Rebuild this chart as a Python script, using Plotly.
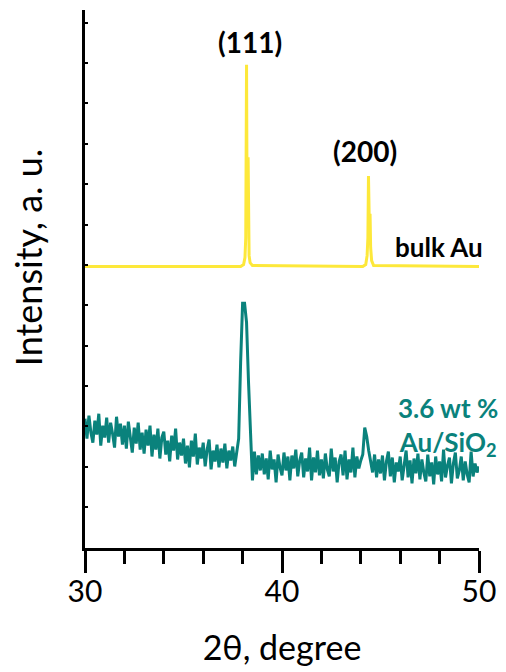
import numpy as np
import plotly.graph_objects as go

# ---- data ----
# bulk Au reference pattern (intensity, a.u.)
bulk_x = [30.0, 37.9, 38.05, 38.12, 38.16, 38.2, 38.23, 38.25, 38.28, 38.3, 38.33, 38.38, 38.5, 44.1, 44.25, 44.32, 44.36, 44.39, 44.42, 44.44, 44.47, 44.5, 44.55, 44.65, 50.0]
bulk_y = [281, 281, 283, 290, 310, 484, 330, 320, 391, 330, 292, 285, 282, 281, 283, 292, 310, 372, 320, 315, 334, 300, 287, 282, 281]

# 3.6 wt % Au/SiO2 pattern, 0.1 degree steps from 30 to 50
sample_x = list(np.round(np.arange(30.0, 50.001, 0.1), 2))
sample_y = [
    128, 108, 131, 114, 104, 126, 112, 133, 101, 121,
    109, 129, 104, 124, 113, 99, 130, 110, 123, 102,
    121, 98, 125, 107, 94, 119, 103, 124, 97, 114,
    93, 117, 101, 121, 90, 112, 97, 118, 88, 109,
    115, 92, 106, 85, 111, 96, 118, 87, 104, 91,
    108, 83, 101, 79, 106, 90, 113, 82, 99, 88,
    104, 80, 97, 107, 77, 96, 85, 102, 79, 98,
    84, 103, 78, 96, 86, 100, 80, 94, 108, 185,
    244, 244, 225, 165, 105, 66, 95, 72, 91, 76,
    93, 72, 88, 67, 96, 77, 87, 64, 92, 79,
    71, 94, 76, 90, 66, 91, 78, 97, 70, 86,
    94, 69, 88, 75, 99, 66, 89, 74, 96, 71,
    87, 68, 93, 77, 70, 98, 75, 89, 64, 85,
    92, 71, 96, 67, 87, 74, 99, 69, 90, 78,
    86, 92, 119, 110, 96, 86, 74, 92, 69, 87,
    73, 91, 66, 85, 95, 70, 89, 64, 84, 75,
    90, 66, 82, 96, 69, 86, 63, 88, 73, 93,
    67, 87, 74, 65, 92, 70, 84, 62, 90, 72,
    85, 65, 97, 69, 81, 89, 63, 83, 94, 68,
    76, 90, 66, 85, 72, 64, 95, 70, 83, 74,
    80,
]

peak_labels = ["(111)", "(200)"]
peak_pos = [38.4, 44.2]
peak_label_y = [507, 397]

x_ticks = [30, 40, 50]

YELLOW = "#FDE83A"
TEAL = "#0A827C"
FONT = "Lato"

fig = go.Figure()
fig.add_trace(go.Scatter(x=bulk_x, y=bulk_y, mode="lines",
                         line=dict(color=YELLOW, width=3), showlegend=False))
fig.add_trace(go.Scatter(x=sample_x, y=sample_y, mode="lines",
                         line=dict(color=TEAL, width=3), showlegend=False))

for lab, px, py in zip(peak_labels, peak_pos, peak_label_y):
    fig.add_annotation(x=px, y=py, text="<b>" + lab + "</b>", showarrow=False,
                       font=dict(family=FONT, size=28, color="black"))

fig.add_annotation(x=50, y=301, text="<b>bulk Au</b>", showarrow=False, xanchor="right",
                   xshift=6, font=dict(family=FONT, size=26, color="black"))
fig.add_annotation(x=48.45, y=120, text="<b>3.6 wt %<br>Au/SiO<sub>2</sub></b>", showarrow=False,
                   align="center", font=dict(family=FONT, size=26, color=TEAL))

fig.add_annotation(xref="paper", yref="paper", x=-0.143, y=0.54, text="Intensity, a. u.",
                   textangle=-90, showarrow=False, xanchor="center", yanchor="middle",
                   font=dict(family=FONT, size=36, color="black"))

fig.update_xaxes(range=[30, 50], tickvals=x_ticks, ticks="outside", ticklen=22, tickwidth=3,
                 tickcolor="black", showline=True, linecolor="black", linewidth=3,
                 showgrid=False, zeroline=False, ticklabelstandoff=-7,
                 minor=dict(dtick=2, tick0=30, ticks="outside", ticklen=13, tickwidth=3, tickcolor="black"),
                 tickfont=dict(family=FONT, size=30, color="black"),
                 title=dict(text="2θ, degree", font=dict(family=FONT, size=34, color="black"), standoff=30))
fig.update_yaxes(range=[-2, 539], tick0=39, dtick=40.6, ticks="inside", ticklen=3, tickwidth=2,
                 tickcolor="black", showticklabels=False, showline=True, linecolor="black",
                 linewidth=3, showgrid=False, zeroline=False)

fig.update_layout(width=506, height=672, margin=dict(l=85, r=20, t=10, b=121),
                  plot_bgcolor="white", paper_bgcolor="white")

fig.write_html("out.html", config={"displayModeBar": False},
               post_script="document.body.style.margin='0px';")
